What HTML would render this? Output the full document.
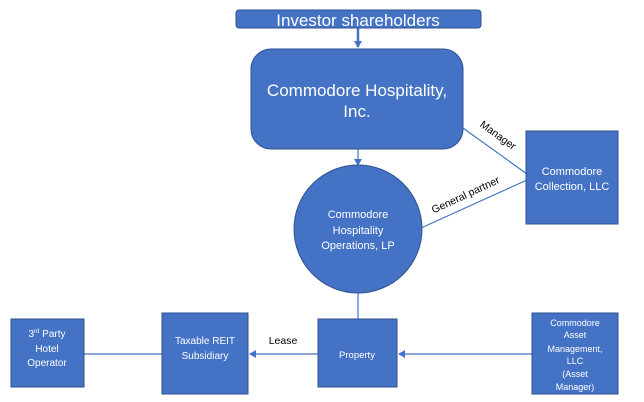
<!DOCTYPE html>
<html><head><style>
html,body{margin:0;padding:0;background:#fff;}
svg{display:block;}
text{font-family:"Liberation Sans",sans-serif;}
.w{fill:#fff;}
</style></head><body>
<svg width="644" height="402" viewBox="0 0 644 402" xmlns="http://www.w3.org/2000/svg">
<defs>
<marker id="a" markerWidth="8" markerHeight="8" refX="6" refY="4" orient="auto" markerUnits="userSpaceOnUse"><path d="M0,0 L7,4 L0,8 Z" fill="#4472C4"/></marker>
</defs>
<g stroke="#4472C4" stroke-width="1.2" fill="none">
<line x1="358" y1="28" x2="358" y2="47" stroke-width="2.5" marker-end="url(#a)"/>
<line x1="358" y1="149" x2="358" y2="165" marker-end="url(#a)"/>
<line x1="463" y1="128" x2="527" y2="174"/>
<line x1="421" y1="228" x2="527" y2="180"/>
<line x1="358" y1="290" x2="358" y2="319"/>
<line x1="84" y1="354" x2="162" y2="354"/>
<line x1="318" y1="354" x2="250" y2="354" marker-end="url(#a)"/>
<line x1="532" y1="354" x2="399" y2="354" marker-end="url(#a)"/>
</g>
<g fill="#4472C4" stroke="#2F528F" stroke-width="1">
<rect x="236" y="10" width="245" height="18" rx="3"/>
<rect x="251" y="49" width="212" height="100" rx="20"/>
<circle cx="358" cy="229" r="64"/>
<rect x="526" y="131" width="92" height="93"/>
<rect x="11" y="319" width="73" height="68"/>
<rect x="162" y="313" width="86" height="81"/>
<rect x="318" y="319" width="79" height="68"/>
<rect x="532" y="313" width="86" height="81"/>
</g>
<g class="w" text-anchor="middle">
<text x="358" y="26" font-size="17">Investor shareholders</text>
<text x="357" y="96" font-size="17">Commodore Hospitality,</text>
<text x="357" y="117" font-size="17">Inc.</text>
<text x="358" y="218" font-size="11">Commodore</text>
<text x="358" y="234" font-size="11">Hospitality</text>
<text x="358" y="249" font-size="11">Operations, LP</text>
<text x="572" y="175" font-size="11">Commodore</text>
<text x="572" y="190" font-size="11">Collection, LLC</text>
<text x="47" y="337" font-size="10">3<tspan font-size="6" dy="-4">rd</tspan><tspan dy="4"> Party</tspan></text>
<text x="47" y="352" font-size="10">Hotel</text>
<text x="47" y="366" font-size="10">Operator</text>
<text x="205" y="344" font-size="10">Taxable REIT</text>
<text x="205" y="359" font-size="10">Subsidiary</text>
<text x="357" y="358" font-size="9.5">Property</text>
<text x="575" y="326" font-size="9">Commodore</text>
<text x="575" y="338" font-size="9">Asset</text>
<text x="575" y="352" font-size="9">Management,</text>
<text x="575" y="364" font-size="9">LLC</text>
<text x="575" y="377" font-size="9">(Asset</text>
<text x="575" y="390" font-size="9">Manager)</text>
</g>
<g fill="#000" font-size="10.5">
<text x="283" y="344" text-anchor="middle">Lease</text>
<text transform="translate(496,138) rotate(36)" text-anchor="middle">Manager</text>
<text transform="translate(467,198) rotate(-25)" text-anchor="middle">General partner</text>
</g>
</svg>
</body></html>
